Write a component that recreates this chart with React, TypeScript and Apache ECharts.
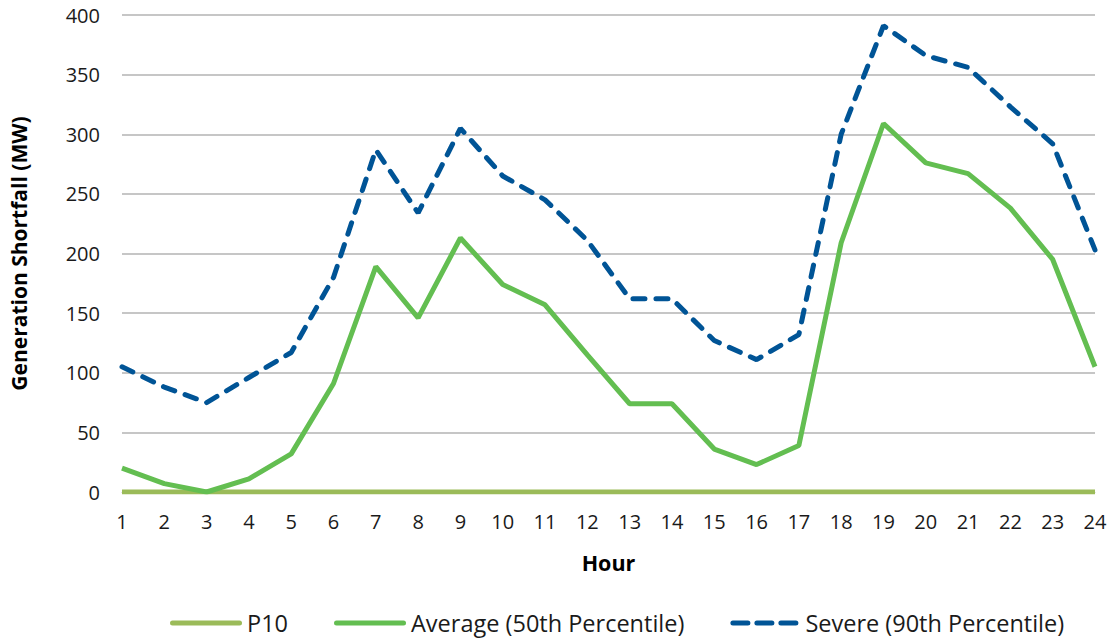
import React, { useEffect, useRef } from "react";
import * as echarts from "echarts";

// Hours of the day shown on the category axis
const hours = ["1","2","3","4","5","6","7","8","9","10","11","12","13","14","15","16","17","18","19","20","21","22","23","24"];

// Generation shortfall (MW) per hour
const p10 = [0,0,0,0,0,0,0,0,0,0,0,0,0,0,0,0,0,0,0,0,0,0,0,0];
const average50 = [20,7,0,11,32,91,189,146,213,174,157,115,74,74,36,23,39,209,309,276,267,238,195,105];
const severe90 = [105,88,75,96,117,180,287,234,305,265,245,211,162,162,127,111,132,300,391,366,356,323,292,203];

const yTicks = { min: 0, max: 400, interval: 50 };

const FONT = "'Open Sans', 'Noto Sans', sans-serif";

// Legend swatches: a rounded bar and three rounded dashes
const solidIcon = "path://M2.5,0H69.5A2.5,2.5 0 0 1 69.5,5H2.5A2.5,2.5 0 0 1 2.5,0Z";
const dashIcon =
  "path://M2.5,0H17.5A2.5,2.5 0 0 1 17.5,5H2.5A2.5,2.5 0 0 1 2.5,0Z" +
  "M26.5,0H41.5A2.5,2.5 0 0 1 41.5,5H26.5A2.5,2.5 0 0 1 26.5,0Z" +
  "M50.5,0H65.5A2.5,2.5 0 0 1 65.5,5H50.5A2.5,2.5 0 0 1 50.5,0Z";

export default function App() {
  const ref = useRef<HTMLDivElement>(null);

  useEffect(() => {
    document.body.style.margin = "0";
    const chart = echarts.init(ref.current!, null, { renderer: "svg" });
    chart.setOption({
      animation: false,
      backgroundColor: "#ffffff",
      textStyle: { fontFamily: FONT },
      grid: { left: 120, right: 19, top: 15, bottom: 146 },
      legend: {
        top: 606,
        left: 165,
        itemWidth: 72,
        itemHeight: 5,
        itemGap: 46,
        textStyle: { fontSize: 23.5, color: "#1a1a1a", fontFamily: FONT },
        data: [
          { name: "P10", icon: solidIcon },
          { name: "Average (50th Percentile)", icon: solidIcon },
          { name: "Severe (90th Percentile)", icon: dashIcon },
        ],
      },
      xAxis: {
        type: "category",
        data: hours,
        boundaryGap: false,
        name: "Hour",
        nameLocation: "middle",
        nameGap: 59,
        nameTextStyle: { fontSize: 21.5, fontWeight: "bold", color: "#000000", fontFamily: FONT },
        axisLine: { show: true, lineStyle: { color: "#bfbfbf" } },
        axisTick: { show: false },
        axisLabel: { fontSize: 20, color: "#1a1a1a", margin: 19, fontFamily: FONT },
      },
      yAxis: {
        type: "value",
        min: yTicks.min,
        max: yTicks.max,
        interval: yTicks.interval,
        name: "Generation Shortfall (MW)",
        nameLocation: "middle",
        nameGap: 93,
        nameTextStyle: { fontSize: 21, fontWeight: "bold", color: "#000000", fontFamily: FONT },
        axisLine: { show: false },
        axisTick: { show: false },
        axisLabel: { fontSize: 20, color: "#1a1a1a", margin: 22, fontFamily: FONT },
        splitLine: { lineStyle: { color: "#c6c6c6", width: 2 } },
      },
      series: [
        {
          name: "P10",
          type: "line",
          data: p10,
          symbol: "none",
          color: "#9bbb59",
          lineStyle: { width: 5, color: "#9bbb59" },
        },
        {
          name: "Average (50th Percentile)",
          type: "line",
          data: average50,
          symbol: "none",
          color: "#63be51",
          lineStyle: { width: 5, color: "#63be51" },
        },
        {
          name: "Severe (90th Percentile)",
          type: "line",
          data: severe90,
          symbol: "none",
          color: "#005496",
          lineStyle: { width: 5, color: "#005496", type: [12, 11], cap: "round" },
        },
      ],
    });
    return () => chart.dispose();
  }, []);

  return (
    <div
      ref={ref}
      style={{ position: "absolute", left: 0, top: 0, width: 1114, height: 638 }}
    />
  );
}
